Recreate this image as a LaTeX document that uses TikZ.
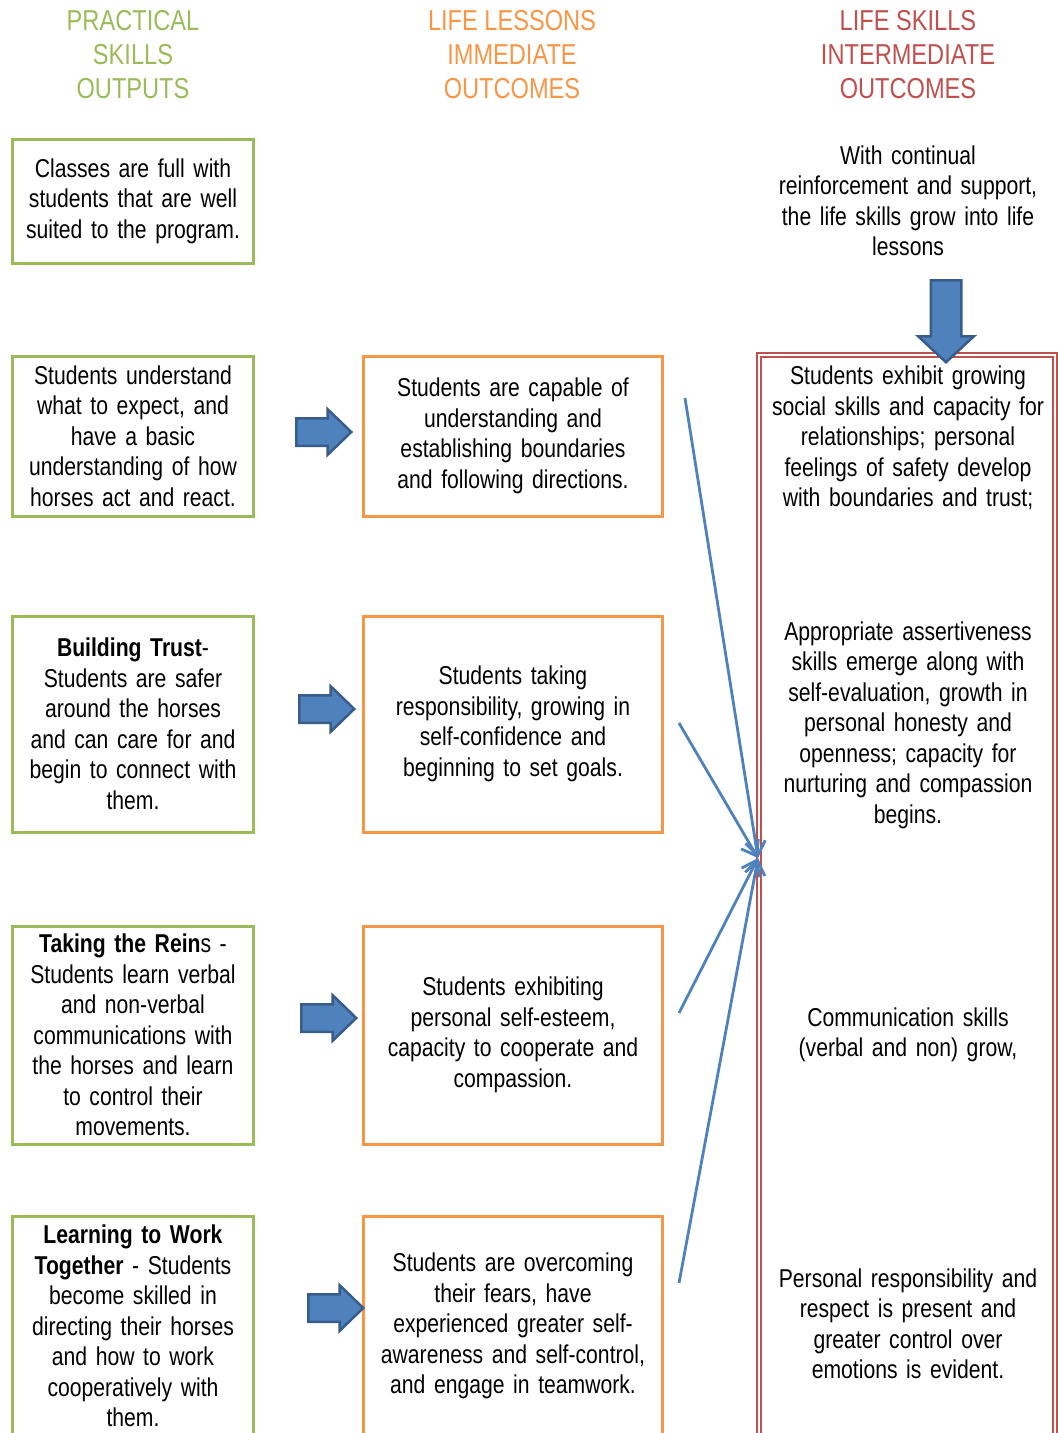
\documentclass[tikz,border=0pt]{standalone}
\usepackage{fontspec}
\setmainfont[FakeStretch=0.82]{Liberation Sans}
\usetikzlibrary{arrows.meta,shapes.arrows}
\definecolor{gframe}{HTML}{9BBB59}
\definecolor{oframe}{HTML}{F79646}
\definecolor{rframe}{HTML}{C0504D}
\definecolor{afill}{HTML}{4F81BD}
\definecolor{aline}{HTML}{385D8A}
\tikzset{>/.tip={Straight Barb[length=14pt,width=20pt]}}
\tikzset{
  head/.style={font=\fontsize{28.8}{34}\selectfont,align=center,inner sep=0pt},
  txt/.style={font=\fontsize{25.8}{30.5}\selectfont,align=center,inner sep=0pt},
  gbox/.style={txt,draw=gframe,line width=3pt,minimum width=241pt,text width=232pt},
  obox/.style={txt,draw=oframe,line width=3pt,minimum width=299pt,text width=290pt},
  rtxt/.style={txt,text width=290pt},
  barrow/.style={single arrow,anchor=tail,draw=aline,fill=afill,line width=2.5pt,inner xsep=0pt,inner ysep=12.5pt,
    minimum height=55pt,single arrow head extend=9pt,single arrow tip angle=88}
}

\begin{document}
\begin{tikzpicture}[x=1pt,y=-1pt]
        \useasboundingbox (0,0) rectangle (1058,1433);
        \clip (0,0) rectangle (1058,1433);
        % column heads
        \node(hp)[head,text=gframe] at (133,55){PRACTICAL\\SKILLS\\OUTPUTS};
        \node(hl)[head,text=oframe] at (512,55){LIFE LESSONS\\IMMEDIATE\\OUTCOMES};
        \node(hs)[head,text=rframe] at (908,55){LIFE SKILLS\\INTERMEDIATE\\OUTCOMES};
        % practical skills
        \node(g1)[gbox,minimum height=124pt] at (133,201){Classes are full with\\students that are well\\suited to the program.};
        \node(g2)[gbox,minimum height=160pt] at (133,436){Students understand\\what to expect, and\\have a basic\\understanding of how\\horses act and react.};
        \node(g3)[gbox,minimum height=216pt] at (133,724){\textbf{Building Trust}-\\Students are safer\\around the horses\\and can care for and\\begin to connect with\\them.};
        \node(g4)[gbox,minimum height=218pt] at (133,1035){\textbf{Taking the Rein}s -\\Students learn verbal\\and non-verbal\\communications with\\the horses and learn\\to control their\\movements.};
        \node(g5)[gbox,minimum height=220pt] at (133,1326){\textbf{Learning to Work}\\\textbf{Together} - Students\\become skilled in\\directing their horses\\and how to work\\cooperatively with\\them.};
        % life lessons
        \node(o1)[obox,minimum height=160pt] at (513,436){Students are capable of\\understanding and\\establishing boundaries\\and following directions.};
        \node(o2)[obox,minimum height=216pt] at (513,724){Students taking\\responsibility, growing in\\self-confidence and\\beginning to set goals.};
        \node(o3)[obox,minimum height=218pt] at (513,1035){Students exhibiting\\personal self-esteem,\\capacity to cooperate and\\compassion.};
        \node(o4)[obox,minimum height=220pt] at (513,1326){Students are overcoming\\their fears, have\\experienced greater self-\\awareness and self-control,\\and engage in teamwork.};
        % block arrows
        \node(a1)[barrow] at (295,432){};
        \node(a2)[barrow] at (298,709){};
        \node(a3)[barrow] at (300,1018){};
        \node(a4)[barrow] at (307,1308){};
        % life skills
        \node(r0)[rtxt] at (908,201){With continual\\reinforcement and support,\\the life skills grow into life\\lessons};
        \draw[rframe,double,line width=1.8pt,double distance=2.2pt] (758.9,355) rectangle (1055.1,1500);
        \node(da)[barrow,shape border rotate=270,minimum height=82pt,inner xsep=14pt,inner ysep=0pt,
          single arrow head extend=12.5pt,single arrow tip angle=94] at (946,279){};
        \node(r1)[rtxt] at (908,438){Students exhibit growing\\social skills and capacity for\\relationships;  personal\\feelings of safety develop\\with boundaries and trust;};
        \node(r2)[rtxt] at (908,725){Appropriate assertiveness\\skills emerge along with\\self-evaluation, growth in\\personal honesty and\\openness; capacity for\\nurturing and compassion\\begins.};
        \node(r3)[rtxt] at (908,1035){Communication skills\\(verbal and non) grow,};
        \node(r4)[rtxt] at (908,1324){Personal responsibility and\\respect is present and\\greater control over\\emotions is evident.};
        % converging lines
        \coordinate(s1) at (685,398);
        \coordinate(s2) at (679,723);
        \coordinate(s3) at (679,1013);
        \coordinate(s4) at (679,1283);
        \coordinate(conv) at (758,858);
        \foreach \s in {s1,s2,s3,s4}
          \draw[->,afill,line width=2.8pt] (\s) -- (conv);
      \end{tikzpicture}
\end{document}
